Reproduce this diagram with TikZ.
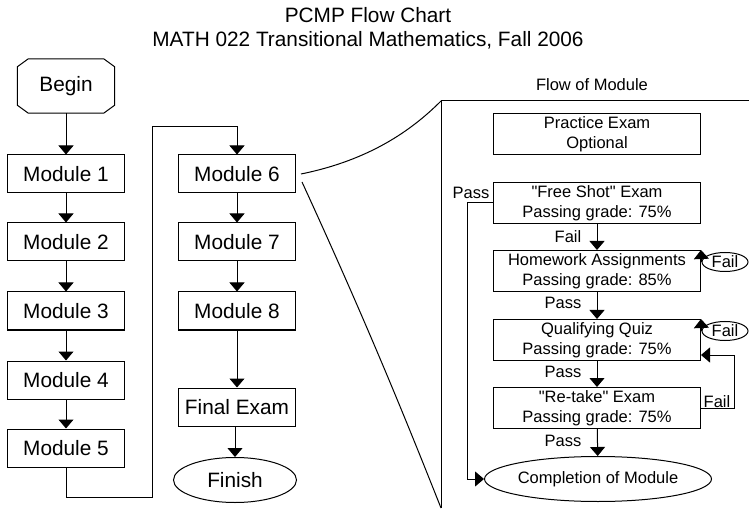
\documentclass[tikz,border=0pt]{standalone}
\usepackage{fontspec}
\setmainfont{Liberation Sans}[Ligatures=TeXOff]
\usetikzlibrary{shapes.geometric,arrows.meta,calc}
\newcommand\bigtxt{\fontsize{20.8}{24}\selectfont}
\newcommand\midtxt{\fontsize{16.5}{20}\selectfont}

\begin{document}
\begin{tikzpicture}[x=1pt,y=-1pt,
  ln/.style={line width=1pt},
  arr/.style={line width=1pt,-{Triangle[width=15pt,length=9pt]}},
  modbox/.style={draw,line width=1pt,minimum width=117pt,minimum height=38pt,inner sep=0pt,font=\bigtxt},
  stepbox/.style={draw,line width=1pt,minimum width=207pt,minimum height=41pt,inner sep=0pt,align=center,font=\midtxt},
  failoval/.style={draw,ellipse,line width=1pt,minimum width=46pt,minimum height=19pt,inner sep=0pt,font=\midtxt},
  lbl/.style={inner sep=0pt,font=\midtxt}]
\useasboundingbox (0,0) rectangle (749,510);

% title
\node[font=\bigtxt,inner sep=0pt] (t1) at (368,15) {PCMP Flow Chart};
\node[font=\bigtxt,inner sep=0pt] (t2) at (368,40) {MATH 022 Transitional Mathematics, Fall 2006};

% left column
\node[minimum width=97pt,minimum height=54pt,inner sep=0pt,font=\bigtxt] (begin) at (66,86) {Begin};
\draw[ln] ($(begin.north west)+(11,0)$) -- ($(begin.north east)+(-11,0)$)
  -- ($(begin.north east)+(0,8)$) -- ($(begin.south east)+(0,-8)$)
  -- ($(begin.south east)+(-11,0)$) -- ($(begin.south west)+(11,0)$)
  -- ($(begin.south west)+(0,-8)$) -- ($(begin.north west)+(0,8)$) -- cycle;
\node[modbox] (m1) at (66,174) {Module 1};
\node[modbox] (m2) at (66,242) {Module 2};
\node[modbox] (m3) at (66,311) {Module 3};
\node[modbox] (m4) at (66,380) {Module 4};
\node[modbox] (m5) at (66,448) {Module 5};

% right column
\node[modbox] (m6) at (237,174) {Module 6};
\node[modbox] (m7) at (237,242) {Module 7};
\node[modbox] (m8) at (237,311) {Module 8};
\node[modbox] (fe) at (237,407) {Final Exam};
\node[draw,ellipse,line width=1pt,minimum width=123pt,minimum height=45pt,inner sep=0pt,font=\bigtxt] (fin) at (235,480) {Finish};

\draw[arr] (begin) -- (m1);
\draw[arr] (m1) -- (m2);
\draw[arr] (m2) -- (m3);
\draw[arr] (m3) -- (m4);
\draw[arr] (m4) -- (m5);
\draw[arr] (m6) -- (m7);
\draw[arr] (m7) -- (m8);
\draw[arr] (m8) -- (fe);
\draw[arr] (fe.south -| fin.north) -- (fin.north);

\coordinate (j1) at (152,497);
\coordinate (j2) at (152,127);
\draw[arr] (m5.south) |- (j1) -- (j2) -| (m6.north);

% zoom lines to the module panel
\coordinate (pt) at (441,101);
\coordinate (pb) at (441,508);
\coordinate (pr) at (749,101);
\draw[ln] ($(m6.east)+(5,0)$) .. controls (370,160) and (412,130) .. (pt);
\draw[ln] ($(m6.east)+(6,8)$) .. controls (370,330) and (410,430) .. (pb);
\draw[ln] (pr) -- (pt) -- (pb);

% module panel
\node[lbl] (fom) at (592,85) {Flow of Module};
\node[stepbox] (pe) at (597,134) {Practice Exam\\Optional};
\node[stepbox] (fs) at (597,203) {"Free Shot" Exam\\Passing grade: 75\%};
\node[stepbox] (hw) at (597,271) {Homework Assignments\\Passing grade: 85\%};
\node[stepbox] (qq) at (597,340) {Qualifying Quiz\\Passing grade: 75\%};
\node[stepbox] (rt) at (597,408) {"Re-take" Exam\\Passing grade: 75\%};
\node[draw,ellipse,line width=1pt,minimum width=210pt,minimum height=45pt,inner sep=0pt,font=\midtxt] (cm) at (598,479) {Completion of Module};

\node[failoval] (hwf) at (725,262) {Fail};
\node[failoval] (qqf) at (725,331) {Fail};

\draw[arr] (fs) -- (hw);
\draw[arr] (hw) -- (qq);
\draw[arr] (qq) -- (rt);
\draw[arr] (rt) -- (cm);

\node[lbl] (lf1) at (568,237) {Fail};
\node[lbl] (lp1) at (563,303) {Pass};
\node[lbl] (lp2) at (563,372) {Pass};
\node[lbl] (lp3) at (563,441) {Pass};
\node[lbl] (lp0) at (471,193) {Pass};
\node[lbl] (lf2) at (717,402) {Fail};

\coordinate (pp) at (467,203);
\draw[arr] (fs.west) -- (pp) |- (cm.west);

\draw[arr] (hwf.west) -- (hw.north east);
\draw[arr] (qqf.west) -- (qq.north east);

\coordinate (rf1) at (734,408);
\coordinate (rf2) at (734,355);
\draw[arr] (rt.east) -- (rf1) -- (rf2) -- (qq.east |- rf2);
\end{tikzpicture}
\end{document}
